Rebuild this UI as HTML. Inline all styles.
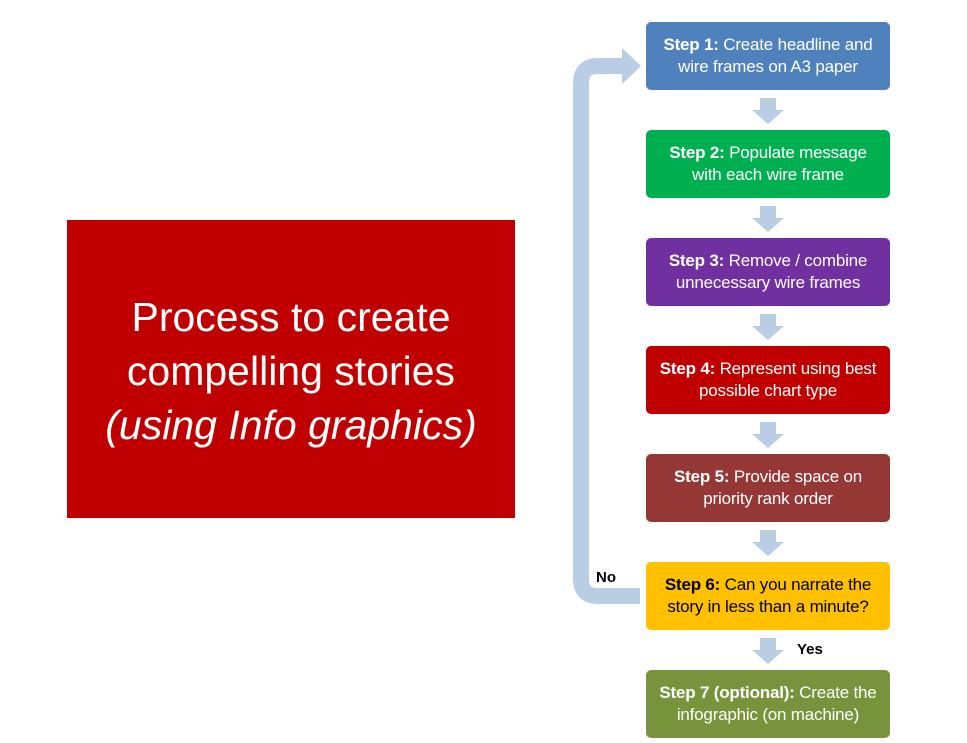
<!DOCTYPE html>
<html><head><meta charset="utf-8"><style>
body{margin:0;width:967px;height:743px;background:#fff;position:relative;overflow:hidden;font-family:"Liberation Sans",sans-serif}
.red{position:absolute;left:67px;top:220px;width:448px;height:298px;background:#c00000;color:#fff;font-size:41px;line-height:54px;text-align:center;display:flex;align-items:center;justify-content:center}
.b{position:absolute;left:646px;width:244px;height:68px;border-radius:5px;color:#fff;font-size:17px;letter-spacing:-0.2px;line-height:22px;text-align:center;display:flex;align-items:center;justify-content:center;white-space:nowrap}
.lbl{position:absolute;font-weight:bold;font-size:15px}
</style></head><body>
<div class="red"><div style="margin-top:4px">Process to create<br>compelling stories<br><i>(using Info graphics)</i></div></div>
<svg width="967" height="743" style="position:absolute;left:0;top:0">
<path d="M640 596 H598 Q581 596 581 579 V83 Q581 66 598 66 H623" fill="none" stroke="#b9cde5" stroke-width="16"/>
<polygon points="622,48 641,66 622,84" fill="#b9cde5"/>
<g fill="#b9cde5">
<path d="M760 98h16v12h8l-16 14-16-14h8z"/>
<path d="M760 206h16v12h8l-16 14-16-14h8z"/>
<path d="M760 314h16v12h8l-16 14-16-14h8z"/>
<path d="M760 422h16v12h8l-16 14-16-14h8z"/>
<path d="M760 530h16v12h8l-16 14-16-14h8z"/>
<path d="M760 638h16v12h8l-16 14-16-14h8z"/>
</g></svg>
<div class="b" style="top:22px;background:#4f81bd"><div><b>Step 1:</b> Create headline and<br>wire frames on A3 paper</div></div>
<div class="b" style="top:130px;background:#00b050"><div><b>Step 2:</b> Populate message<br>with each wire frame</div></div>
<div class="b" style="top:238px;background:#7030a0"><div><b>Step 3:</b> Remove / combine<br>unnecessary wire frames</div></div>
<div class="b" style="top:346px;background:#c00000"><div><b>Step 4:</b> Represent using best<br>possible chart type</div></div>
<div class="b" style="top:454px;background:#953735"><div><b>Step 5:</b> Provide space on<br>priority rank order</div></div>
<div class="b" style="top:562px;background:#ffc000;color:#000"><div><b>Step 6:</b> Can you narrate the<br>story in less than a minute?</div></div>
<div class="b" style="top:670px;background:#77933c"><div><b>Step 7 (optional):</b> Create the<br>infographic (on machine)</div></div>
<div class="lbl" style="left:596px;top:569px">No</div>
<div class="lbl" style="left:797px;top:641px">Yes</div>
</body></html>
